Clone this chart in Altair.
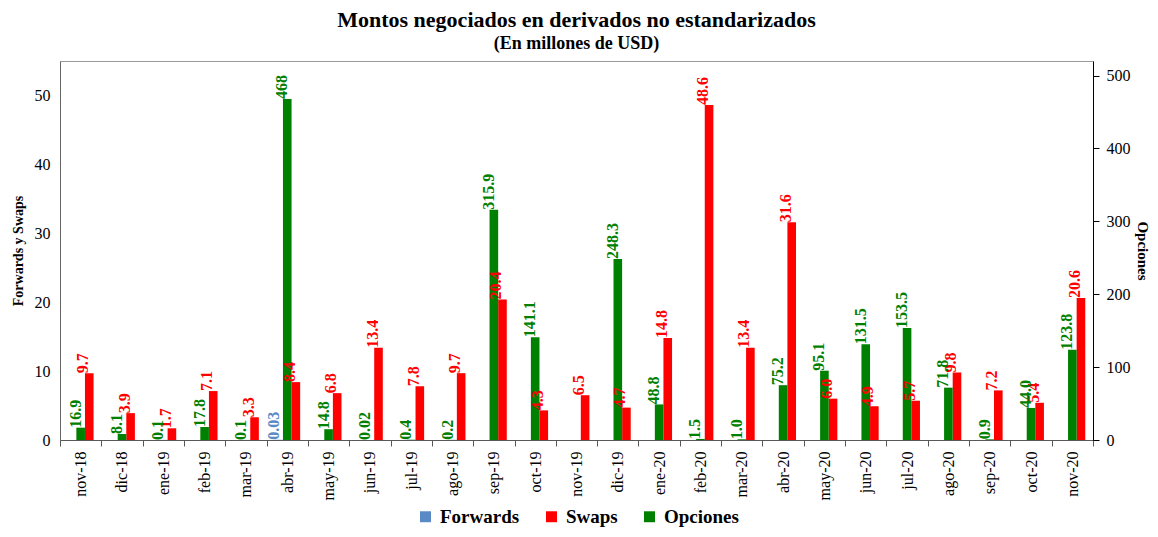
import altair as alt
import pandas as pd

months = ["nov-18", "dic-18", "ene-19", "feb-19", "mar-19", "abr-19", "may-19",
          "jun-19", "jul-19", "ago-19", "sep-19", "oct-19", "nov-19", "dic-19",
          "ene-20", "feb-20", "mar-20", "abr-20", "may-20", "jun-20", "jul-20",
          "ago-20", "sep-20", "oct-20", "nov-20"]

forwards = [None, None, None, None, None, 0.03, None, None, None, None, None, None, None,
            None, None, None, None, None, None, None, None, None, None, None, None]
forwards_labels = ["", "", "", "", "", "0.03", "", "", "", "", "", "", "",
                   "", "", "", "", "", "", "", "", "", "", "", ""]

swaps = [9.7, 3.9, 1.7, 7.1, 3.3, 8.4, 6.8, 13.4, 7.8, 9.7, 20.4, 4.3, 6.5,
         4.7, 14.8, 48.6, 13.4, 31.6, 6.0, 4.9, 5.7, 9.8, 7.2, 5.4, 20.6]
swaps_labels = ["9.7", "3.9", "1.7", "7.1", "3.3", "8.4", "6.8", "13.4", "7.8", "9.7",
                "20.4", "4.3", "6.5", "4.7", "14.8", "48.6", "13.4", "31.6", "6.0",
                "4.9", "5.7", "9.8", "7.2", "5.4", "20.6"]

opciones = [16.9, 8.1, 0.1, 17.8, 0.1, 468, 14.8, 0.02, 0.4, 0.2, 315.9, 141.1, None,
            248.3, 48.8, 1.5, 1.0, 75.2, 95.1, 131.5, 153.5, 71.8, 0.9, 44.0, 123.8]
opciones_labels = ["16.9", "8.1", "0.1", "17.8", "0.1", "468", "14.8", "0.02", "0.4",
                   "0.2", "315.9", "141.1", "", "248.3", "48.8", "1.5", "1.0", "75.2",
                   "95.1", "131.5", "153.5", "71.8", "0.9", "44.0", "123.8"]

series_order = ["Forwards", "Swaps", "Opciones"]
offset_order = ["Forwards", "Opciones", "Swaps"]
colors = ["#5A8AC6", "#FF0000", "#008000"]

rows = []
for name, vals, labs in [("Forwards", forwards, forwards_labels),
                         ("Swaps", swaps, swaps_labels),
                         ("Opciones", opciones, opciones_labels)]:
    for m, v, l in zip(months, vals, labs):
        if v is not None:
            rows.append({"mes": m, "serie": name, "valor": v, "etiqueta": l})
df = pd.DataFrame(rows)

FONT = "Liberation Serif"

x_enc = alt.X("mes:N", sort=months, title=None,
              scale=alt.Scale(paddingInner=0, paddingOuter=0),
              axis=alt.Axis(labelAngle=-90, labelFontSize=16, labelColor="#000000",
                            labelPadding=5, tickBand="extent", tickSize=6,
                            tickColor="#595959", domainColor="#595959", grid=False,
                            labelFont=FONT))
xo_enc = alt.XOffset("serie:N", scale=alt.Scale(domain=offset_order,
                                                 paddingInner=0, paddingOuter=0.9))

LEFT_DOMAIN = [0, 55]
RIGHT_DOMAIN = [0, 520]

y_left = alt.Y("valor:Q", title="Forwards y Swaps",
               scale=alt.Scale(domain=LEFT_DOMAIN, nice=False),
               axis=alt.Axis(orient="left", values=[0, 10, 20, 30, 40, 50], tickSize=0,
                             labelFontSize=16, labelColor="#000000", labelPadding=10,
                             titleFontSize=14, titleFontWeight="bold", titleColor="#000000",
                             titlePadding=9, domainColor="#666666", grid=False,
                             labelFont=FONT, titleFont=FONT))
y_right = alt.Y("valor:Q", title="Opciones",
                scale=alt.Scale(domain=RIGHT_DOMAIN, nice=False),
                axis=alt.Axis(orient="right", values=[0, 100, 200, 300, 400, 500], tickSize=6,
                              tickColor="#000000", labelFontSize=16, labelColor="#000000",
                              labelPadding=7, titleFontSize=15, titleFontWeight="bold",
                              titleColor="#000000", titlePadding=4, domainColor="#000000",
                              grid=False, labelFont=FONT, titleFont=FONT))

color_enc = alt.Color("serie:N",
                      scale=alt.Scale(domain=series_order, range=colors),
                      legend=alt.Legend(title=None, orient="none", direction="horizontal",
                                        legendX=356, legendY=446, symbolType="square",
                                        symbolSize=120, symbolStrokeWidth=0,
                                        labelFontSize=19, labelFontWeight="bold",
                                        labelFont=FONT, labelColor="#000000",
                                        columnPadding=22, labelOffset=5))

base = alt.Chart(df)

bars_left = base.transform_filter(
    alt.FieldOneOfPredicate(field="serie", oneOf=["Forwards", "Swaps"])
).mark_bar().encode(x=x_enc, xOffset=xo_enc, y=y_left, color=color_enc)

bars_right = base.transform_filter(alt.datum.serie == "Opciones").mark_bar().encode(
    x=x_enc, xOffset=xo_enc, y=y_right, color=color_enc)


def text_layer(name, color, domain, dy):
    y_enc = alt.Y("valor:Q", scale=alt.Scale(domain=domain, nice=False), axis=None)
    return base.transform_filter(alt.datum.serie == name).mark_text(
        angle=270, align="left", baseline="middle", dy=dy, fontSize=16,
        fontWeight="bold", font=FONT, color=color
    ).encode(x=x_enc, xOffset=xo_enc, y=y_enc, text="etiqueta:N")


chart = alt.layer(
    bars_left,
    bars_right,
    text_layer("Forwards", colors[0], LEFT_DOMAIN, -5),
    text_layer("Swaps", colors[1], LEFT_DOMAIN, -6),
    text_layer("Opciones", colors[2], RIGHT_DOMAIN, -5),
).resolve_scale(y="independent").properties(
    width=1033, height=379,
    autosize=alt.AutoSizeParams(type="none"),
    padding={"left": 52, "top": 53, "right": 57, "bottom": 89},
    title=alt.TitleParams(
        text="Montos negociados en derivados no estandarizados",
        subtitle="(En millones de USD)",
        font=FONT, fontSize=22, fontWeight="bold", color="#000000",
        subtitleFont=FONT, subtitleFontSize=18, subtitleFontWeight="bold",
        subtitleColor="#000000", subtitlePadding=3, offset=7, anchor="middle"
    )
).configure_view(stroke="#999999", strokeWidth=1)

chart.save("out.html", embed_options={"renderer": "svg", "actions": False})
